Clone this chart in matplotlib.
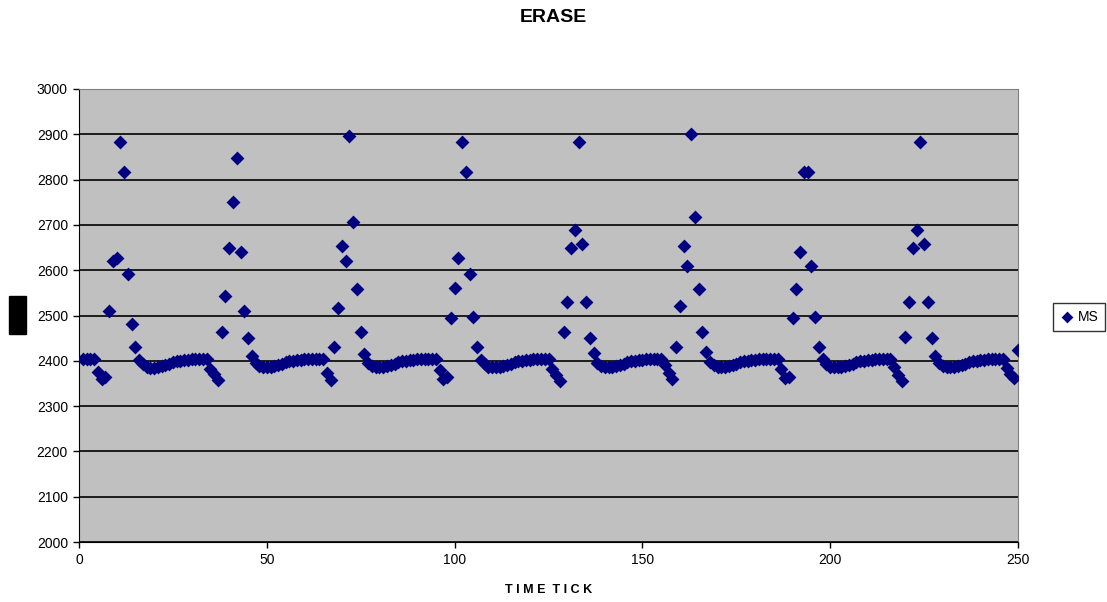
import matplotlib
matplotlib.use("Agg")
import matplotlib.pyplot as plt
from matplotlib.patches import Rectangle
import numpy as np

# MS values per time tick, one row per cycle
ms = [
    2405, 2405, 2405, 2405, 2375, 2360, 2365,
    2511, 2621, 2627, 2882, 2816, 2591, 2481, 2431, 2402,
    2392, 2387, 2385, 2385, 2386, 2388, 2391, 2394, 2397, 2399, 2400, 2401, 2402, 2403, 2404, 2405, 2405, 2405,
    2383, 2370, 2357,
    2463, 2542, 2650, 2750, 2847, 2640, 2511, 2450, 2411,
    2395, 2388, 2386, 2386, 2387, 2389, 2391, 2394, 2397, 2399, 2400, 2401, 2402, 2403, 2404, 2405, 2405, 2405,
    2403, 2372, 2357,
    2431, 2516, 2653, 2621, 2896, 2706, 2559, 2463, 2414,
    2396, 2388, 2386, 2386, 2387, 2389, 2391, 2394, 2397, 2399, 2400, 2401, 2402, 2403, 2404, 2405, 2405, 2405, 2405,
    2380, 2360, 2365,
    2494, 2560, 2626, 2882, 2816, 2591, 2497, 2431, 2402,
    2392, 2387, 2386, 2386, 2387, 2389, 2391, 2394, 2397, 2399, 2400, 2401, 2402, 2403, 2404, 2405, 2405, 2405,
    2383, 2369, 2356,
    2463, 2529, 2648, 2689, 2882, 2657, 2529, 2450, 2417,
    2395, 2388, 2386, 2386, 2387, 2389, 2391, 2394, 2397, 2399, 2400, 2401, 2402, 2403, 2404, 2405, 2405, 2405,
    2390, 2372, 2359,
    2431, 2521, 2653, 2609, 2901, 2718, 2559, 2463, 2420,
    2398, 2390, 2386, 2386, 2387, 2389, 2391, 2394, 2397, 2399, 2400, 2401, 2402, 2403, 2404, 2405, 2405, 2405, 2405,
    2383, 2362, 2365,
    2494, 2559, 2640, 2816, 2816, 2609, 2497, 2431, 2405,
    2393, 2387, 2386, 2386, 2387, 2389, 2391, 2394, 2397, 2399, 2400, 2401, 2402, 2403, 2404, 2405, 2405, 2405,
    2387, 2369, 2355,
    2453, 2529, 2648, 2689, 2882, 2657, 2529, 2450, 2411,
    2395, 2388, 2386, 2386, 2387, 2389, 2391, 2394, 2397, 2399, 2400, 2401, 2402, 2403, 2404, 2405, 2405, 2403,
    2385, 2370, 2362, 2424,
]
ticks = np.arange(1, len(ms) + 1)

x_ticks = [0, 50, 100, 150, 200, 250]
y_ticks = list(range(2000, 3001, 100))

plt.rcParams['font.family'] = ['Liberation Sans', 'DejaVu Sans']

fig = plt.figure(figsize=(11.07, 6.02), dpi=100)
ax = fig.add_axes([79 / 1107, 1 - 542 / 602, (1018 - 79) / 1107, (542 - 89) / 602])
ax.set_facecolor('#C0C0C0')

ax.scatter(ticks, ms, marker='D', s=50, color='#000080', zorder=3, label='MS', linewidths=0)

ax.set_xlim(0, 250)
ax.set_ylim(2000, 3000)
ax.set_xticks(x_ticks)
ax.set_yticks(y_ticks)
ax.yaxis.grid(True, color='black', linewidth=1.2)
ax.set_axisbelow(True)
ax.tick_params(direction='out', length=4, width=1, labelsize=10, pad=4, color='black')

for side in ['top', 'right']:
    ax.spines[side].set_color('#808080')
for side in ['left', 'bottom']:
    ax.spines[side].set_color('black')

ax.set_xlabel('T I M E  T I C K', fontsize=9, fontweight='bold', labelpad=12)
fig.suptitle('ERASE', fontsize=14, fontweight='bold', y=1 - 18 / 602, va='center')

# y axis label shows up as a black box in the original
fig.patches.append(Rectangle((9 / 1107, 1 - 334 / 602), 17 / 1107, 38 / 602,
                             transform=fig.transFigure, color='black'))

leg = ax.legend(loc='center', bbox_to_anchor=(1079 / 1107, 1 - 317 / 602),
                bbox_transform=fig.transFigure, frameon=True, fancybox=False,
                fontsize=10, handletextpad=0.3, borderpad=0.5, handlelength=1,
                markerscale=0.85)
leg.get_frame().set_edgecolor('black')
leg.get_frame().set_linewidth(1)

fig.savefig('out.png', dpi=100)
